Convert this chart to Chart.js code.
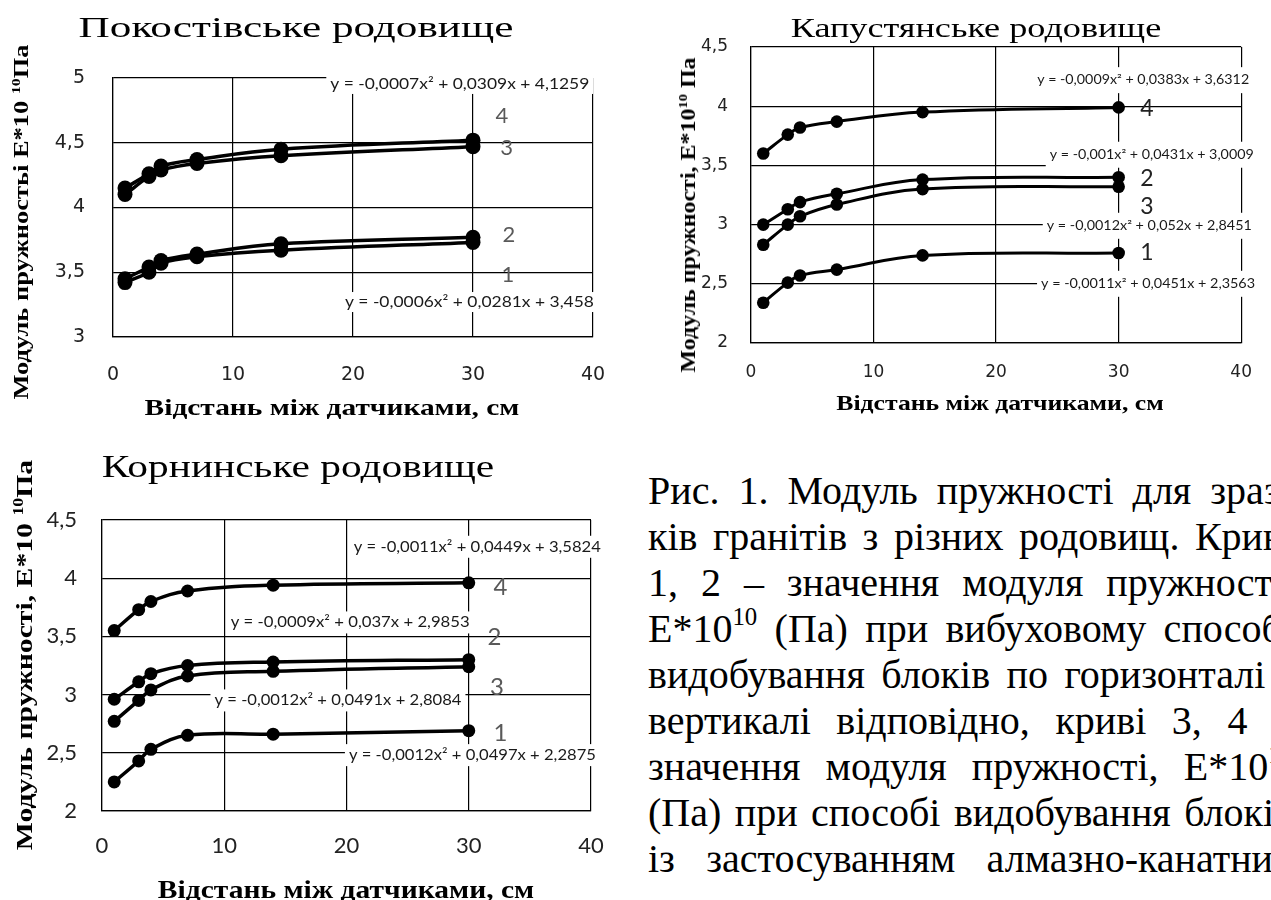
<!DOCTYPE html>
<html lang="uk">
<head>
<meta charset="utf-8">
<title>Модуль пружності гранітів</title>
<script src="https://cdn.jsdelivr.net/npm/chart.js@4.4.1/dist/chart.umd.min.js"></script>
<style>
  html, body { margin: 0; padding: 0; background: #fff; }
  body { width: 1271px; height: 900px; overflow: hidden; position: relative; }
  canvas { position: absolute; }
  .lbl { position: absolute; white-space: nowrap; color: #000; line-height: 1; transform-origin: 50% 50%; }
  .lbl sup { font-size: 0.6em; vertical-align: 0.6em; line-height: 0; }
  .caption { position: absolute; left: 648px; top: 468px; font-family: 'Liberation Serif', 'Times New Roman', serif;
             font-size: 40px; line-height: 46px; color: #000; }
  .caption div { width: 645px; text-align: justify; text-align-last: justify; }
  .caption sup { font-size: 0.62em; vertical-align: 0.7em; line-height: 0; }
</style>
</head>
<body>
<canvas id="pokostiv" width="640" height="440" style="left:0;top:0"></canvas>
<canvas id="kapustyan" width="631" height="440" style="left:640px;top:0"></canvas>
<canvas id="kornin" width="640" height="460" style="left:0;top:440px"></canvas>

<div class="caption">
  <div>Рис. 1. Модуль пружності для зраз-</div>
  <div>ків гранітів з різних родовищ. Криві</div>
  <div>1, 2 – значення модуля пружності,</div>
  <div>E*10<sup>10</sup> (Па) при вибуховому способі</div>
  <div>видобування блоків по горизонталі і</div>
  <div>вертикалі відповідно, криві 3, 4 –</div>
  <div>значення модуля пружності, E*10<sup>10</sup></div>
  <div>(Па) при способі видобування блоків</div>
  <div>із застосуванням алмазно-канатних</div>
</div>

<script>
// Distance between sensors, cm (shared by all curves)
const distances = [1, 3, 4, 7, 14, 30];
const xTickValues = [0, 10, 20, 30, 40];

// Покостівське родовище, E*10^10 Па
const pokostivCurve1 = [3.42, 3.50, 3.57, 3.62, 3.67, 3.73];
const pokostivCurve2 = [3.45, 3.54, 3.59, 3.64, 3.72, 3.77];
const pokostivCurve3 = [4.10, 4.24, 4.29, 4.34, 4.40, 4.47];
const pokostivCurve4 = [4.15, 4.26, 4.32, 4.37, 4.45, 4.52];
const pokostivYTicks = [3, 3.5, 4, 4.5, 5];

// Капустянське родовище
const kapustyanCurve1 = [2.34, 2.51, 2.57, 2.62, 2.74, 2.76];
const kapustyanCurve2 = [3.00, 3.13, 3.19, 3.26, 3.38, 3.40];
const kapustyanCurve3 = [2.83, 3.00, 3.07, 3.17, 3.30, 3.32];
const kapustyanCurve4 = [3.60, 3.76, 3.82, 3.87, 3.95, 3.99];
const kapustyanYTicks = [2, 2.5, 3, 3.5, 4, 4.5];

// Корнинське родовище
const korninCurve1 = [2.25, 2.43, 2.53, 2.65, 2.66, 2.69];
const korninCurve2 = [2.96, 3.11, 3.18, 3.25, 3.28, 3.30];
const korninCurve3 = [2.77, 2.95, 3.04, 3.16, 3.20, 3.24];
const korninCurve4 = [3.55, 3.73, 3.80, 3.89, 3.94, 3.96];
const korninYTicks = [2, 2.5, 3, 3.5, 4, 4.5];

// Trend-line equations
const pokostivFormulas = ['y = -0,0007x² + 0,0309x + 4,1259', 'y = -0,0006x² + 0,0281x + 3,458'];
const kapustyanFormulas = ['y = -0,0009x² + 0,0383x + 3,6312', 'y = -0,001x² + 0,0431x + 3,0009',
                           'y = -0,0012x² + 0,052x + 2,8451', 'y = -0,0011x² + 0,0451x + 2,3563'];
const korninFormulas = ['y = -0,0011x² + 0,0449x + 3,5824', 'y = -0,0009x² + 0,037x + 2,9853',
                        'y = -0,0012x² + 0,0491x + 2,8084', 'y = -0,0012x² + 0,0497x + 2,2875'];
const curveNumbers = ['1', '2', '3', '4'];

// Draws the equation boxes and curve numbers in axis units
function notesPlugin(notes) {
  return {
    id: 'curveNotes',
    beforeDatasetsDraw(chart) {
      const { ctx, scales: { x, y } } = chart;
      notes.equations.forEach(eq => {
        const px = x.getPixelForValue(eq.at[0]);
        const py = y.getPixelForValue(eq.at[1]);
        ctx.save();
        ctx.font = notes.eqFont;
        const k = eq.width / ctx.measureText(eq.text).width;
        ctx.fillStyle = '#fff';
        ctx.fillRect(px - eq.width / 2 - 4, py - notes.boxH / 2, eq.width + 8, notes.boxH);
        ctx.translate(px, py);
        ctx.scale(k, 1);
        ctx.fillStyle = '#1a1a1a';
        ctx.textAlign = 'center';
        ctx.textBaseline = 'middle';
        ctx.fillText(eq.text, 0, 0);
        ctx.restore();
      });
      notes.numbers.forEach(n => {
        ctx.save();
        ctx.font = notes.numFont;
        ctx.fillStyle = notes.numColor;
        ctx.textAlign = 'center';
        ctx.textBaseline = 'middle';
        ctx.fillText(n.text, x.getPixelForValue(n.at[0]), y.getPixelForValue(n.at[1]));
        ctx.restore();
      });
    }
  };
}

function buildChart(id, cfg) {
  const datasets = cfg.series.map(values => ({
    data: distances.map((d, i) => ({ x: d, y: values[i] })),
    borderColor: '#000',
    backgroundColor: '#000',
    borderWidth: cfg.lineWidth,
    pointRadius: cfg.pointRadius,
    pointHoverRadius: cfg.pointRadius,
    pointBackgroundColor: '#000',
    pointBorderWidth: 0,
    tension: 0.4,
    fill: false
  }));
  const gridStyle = { color: '#000', lineWidth: 1.2, drawTicks: false };
  const borderStyle = { color: '#000', width: 1.2 };
  return new Chart(document.getElementById(id), {
    type: 'line',
    data: { datasets },
    options: {
      responsive: false,
      animation: false,
      devicePixelRatio: 1,
      events: [],
      layout: { padding: cfg.padding },
      plugins: { legend: { display: false }, tooltip: { enabled: false }, title: { display: false } },
      scales: {
        x: {
          type: 'linear', min: 0, max: 40,
          afterBuildTicks: s => { s.ticks = xTickValues.map(v => ({ value: v })); },
          afterFit: s => { s.height = cfg.xAxisHeight; },
          grid: gridStyle, border: borderStyle,
          ticks: { font: cfg.tickFont, color: cfg.tickColor, padding: cfg.xTickPad, maxRotation: 0, autoSkip: false,
                   callback: v => String(v) }
        },
        y: {
          type: 'linear', min: cfg.yTicks[0], max: cfg.yTicks[cfg.yTicks.length - 1],
          afterBuildTicks: s => { s.ticks = cfg.yTicks.map(v => ({ value: v })); },
          afterFit: s => { s.width = cfg.yAxisWidth; },
          grid: gridStyle, border: borderStyle,
          ticks: { font: cfg.tickFont, color: cfg.tickColor, padding: cfg.yTickPad, autoSkip: false,
                   callback: v => String(v).replace('.', ',') }
        }
      }
    },
    plugins: [notesPlugin(cfg.notes)]
  });
}

buildChart('pokostiv', {
  series: [pokostivCurve1, pokostivCurve2, pokostivCurve3, pokostivCurve4],
  yTicks: pokostivYTicks,
  lineWidth: 3.5, pointRadius: 7.5,
  padding: { left: 0, top: 78, right: 47, bottom: 43 },
  yAxisWidth: 113, xAxisHeight: 60,
  tickFont: { family: 'DejaVu Sans', size: 19 }, tickColor: '#222',
  xTickPad: 27, yTickPad: 28,
  notes: {
    eqFont: '15px Lato', boxH: 20, numFont: '22px Lato', numColor: '#595959',
    equations: [
      { text: pokostivFormulas[0], at: [28.9, 4.954], width: 259 },
      { text: pokostivFormulas[1], at: [29.7, 3.27], width: 249 }
    ],
    numbers: [
      { text: curveNumbers[3], at: [32.4, 4.71] },
      { text: curveNumbers[2], at: [32.8, 4.46] },
      { text: curveNumbers[1], at: [33.0, 3.79] },
      { text: curveNumbers[0], at: [32.9, 3.48] }
    ]
  }
});

buildChart('kapustyan', {
  series: [kapustyanCurve1, kapustyanCurve2, kapustyanCurve3, kapustyanCurve4],
  yTicks: kapustyanYTicks,
  lineWidth: 3, pointRadius: 6.3,
  padding: { left: 0, top: 47, right: 23, bottom: 37 },
  yAxisWidth: 111, xAxisHeight: 60,
  tickFont: { family: 'DejaVu Sans', size: 17 }, tickColor: '#222',
  xTickPad: 19, yTickPad: 23,
  notes: {
    eqFont: '13px Lato', boxH: 26, numFont: '23px Lato', numColor: '#222',
    equations: [
      { text: kapustyanFormulas[0], at: [32.0, 4.22], width: 212 },
      { text: kapustyanFormulas[1], at: [32.7, 3.59], width: 204 },
      { text: kapustyanFormulas[2], at: [32.5, 2.99], width: 205 },
      { text: kapustyanFormulas[3], at: [32.4, 2.50], width: 214 }
    ],
    numbers: [
      { text: curveNumbers[3], at: [32.3, 3.98] },
      { text: curveNumbers[1], at: [32.3, 3.39] },
      { text: curveNumbers[2], at: [32.3, 3.15] },
      { text: curveNumbers[0], at: [32.3, 2.76] }
    ]
  }
});

buildChart('kornin', {
  series: [korninCurve1, korninCurve2, korninCurve3, korninCurve4],
  yTicks: korninYTicks,
  lineWidth: 3.5, pointRadius: 6.5,
  padding: { left: 0, top: 80, right: 49, bottom: 39 },
  yAxisWidth: 102, xAxisHeight: 50,
  tickFont: { family: 'Lato', size: 22 }, tickColor: '#222',
  xTickPad: 22, yTickPad: 25,
  notes: {
    eqFont: '15px Lato', boxH: 22, numFont: '24px Lato', numColor: '#595959',
    equations: [
      { text: korninFormulas[0], at: [30.7, 4.27], width: 247 },
      { text: korninFormulas[1], at: [20.3, 3.62], width: 239 },
      { text: korninFormulas[2], at: [19.3, 2.95], width: 247 },
      { text: korninFormulas[3], at: [30.3, 2.48], width: 247 }
    ],
    numbers: [
      { text: curveNumbers[3], at: [32.6, 3.92] },
      { text: curveNumbers[1], at: [32.1, 3.49] },
      { text: curveNumbers[2], at: [32.3, 3.06] },
      { text: curveNumbers[0], at: [32.6, 2.67] }
    ]
  }
});

// Titles and axis captions, stretched to their column widths
function placeText(html, o) {
  const el = document.createElement('div');
  el.className = 'lbl';
  el.innerHTML = html;
  el.style.font = o.font;
  document.body.appendChild(el);
  const k = o.width / el.offsetWidth;
  el.style.left = o.cx + 'px';
  el.style.top = o.cy + 'px';
  el.style.transform = 'translate(-50%, -50%)' + (o.rotate ? ' rotate(-90deg)' : '') + ' scaleX(' + k + ')';
}
const serif = "'Liberation Serif', 'Times New Roman', serif";
const yCaptionA = 'Модуль пружностьі E*10 <sup>10</sup>Па';
const yCaptionB = 'Модуль пружності, E*10<sup>10</sup> Па';
const yCaptionC = 'Модуль пружності, E*10 <sup>10</sup>Па';
const xCaption = 'Відстань між датчиками, см';

placeText('Покостівське родовище', { cx: 296, cy: 27, width: 435, font: '30px ' + serif });
placeText(yCaptionA, { cx: 21, cy: 222, width: 355, font: 'bold 22px ' + serif, rotate: true });
placeText(xCaption, { cx: 332, cy: 407, width: 375, font: 'bold 24px ' + serif });

placeText('Капустянське родовище', { cx: 976, cy: 28, width: 371, font: '28px ' + serif });
placeText(yCaptionB, { cx: 688, cy: 215, width: 315, font: 'bold 22px ' + serif, rotate: true });
placeText(xCaption, { cx: 1000, cy: 403, width: 327, font: 'bold 22px ' + serif });

placeText('Корнинське родовище', { cx: 298, cy: 466, width: 392, font: '32px ' + serif });
placeText(yCaptionC, { cx: 24, cy: 655, width: 390, font: 'bold 24px ' + serif, rotate: true });
placeText(xCaption, { cx: 346, cy: 890, width: 376, font: 'bold 26px ' + serif });
</script>
</body>
</html>
